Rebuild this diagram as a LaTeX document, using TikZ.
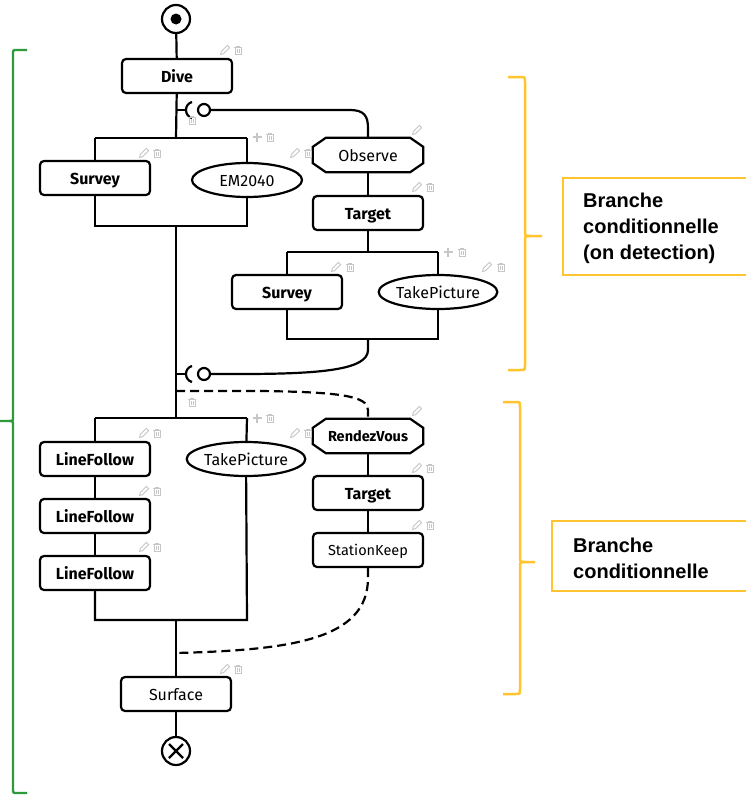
\documentclass[tikz,border=0pt]{standalone}
\usepackage{fontspec}
\setmainfont{Fira Sans}
\newfontfamily\notefont{Liberation Sans}
\usetikzlibrary{calc,shapes.geometric}

\definecolor{iconcol}{HTML}{C6C6C6}
\definecolor{braceyellow}{HTML}{FFC42E}
\definecolor{bracegreen}{HTML}{2F9A3C}

\tikzset{
  flow/.style={line width=2.2pt, draw=black},
  dashflow/.style={flow, dash pattern=on 9pt off 5pt},
  labelbox/.style={text height=12pt, text depth=0pt},
  action/.style={draw, line width=2.2pt, rounded corners=4pt, minimum width=110pt,
    minimum height=34pt, inner sep=0pt, labelbox, font=\fontsize{16}{18}\selectfont\bfseries},
  sensor/.style={draw, line width=2.2pt, ellipse, minimum width=110pt,
    minimum height=34pt, inner sep=0pt, labelbox, font=\fontsize{16}{18}\selectfont},
  event/.style={minimum width=110pt, minimum height=34pt, inner sep=0pt, labelbox,
    font=\fontsize{16}{18}\selectfont},
  socket/.style={circle, draw, line width=2.2pt, minimum size=12pt, inner sep=0pt},
  terminal/.style={circle, draw, line width=2.2pt, minimum size=28pt, inner sep=0pt},
  iconstroke/.style={draw=iconcol, line width=0.9pt},
  note/.style={font=\notefont\bfseries\fontsize{20}{26}\selectfont, align=left, inner sep=0pt},
  yellowline/.style={draw=braceyellow, line width=2.5pt},
  greenline/.style={draw=bracegreen, line width=2.3pt},
}

% chamfered frame drawn around an event node
\newcommand\eventframe[1]{%
  \draw[flow] ($(#1.north west)+(13,0)$) -- ($(#1.north east)+(-13,0)$)
    -- ($(#1.north east)+(0,9)$) -- ($(#1.south east)+(0,-9)$)
    -- ($(#1.south east)+(-13,0)$) -- ($(#1.south west)+(13,0)$)
    -- ($(#1.south west)+(0,-9)$) -- ($(#1.north west)+(0,9)$) -- cycle;}

% small edit / delete / add glyphs
\newcommand\icpencil[1]{\begin{scope}[shift={#1}]
  \draw[iconstroke] (-4.5,4.5) -- (-1.4,3.6) -- (4.6,-2.4) -- (2.4,-4.6) -- (-3.6,1.4) -- cycle;
  \end{scope}}
\newcommand\icbin[1]{\begin{scope}[shift={#1}]
  \draw[iconstroke] (-3,-2.5) rectangle (3,4.5);
  \draw[iconstroke] (-4,-2.5) -- (4,-2.5);
  \draw[iconstroke] (-1.5,-2.5) -- (-1.5,-4) -- (1.5,-4) -- (1.5,-2.5);
  \draw[iconstroke, line width=0.5pt] (-1,-0.8) -- (-1,3) (1,-0.8) -- (1,3);
  \end{scope}}
\newcommand\icplus[1]{\begin{scope}[shift={#1}]
  \draw[draw=iconcol, line width=1.6pt] (-4.5,0) -- (4.5,0) (0,-4.5) -- (0,4.5);
  \end{scope}}
\newcommand\icedit[2]{\icpencil{#1}\icbin{#2}}

\begin{document}
\begin{tikzpicture}[x=1pt, y=-1pt]
\fill[white] (0,0) rectangle (745,795);
\useasboundingbox (0,0) rectangle (745,795);

% ---------- nodes ----------
\node[terminal] (start) at (176,19) {};
\fill (start.center) circle (5.5);
\node[action] (dive) at (177,76) {Dive};

\node[action] (surv1) at (95,178) {Survey};
\node[sensor] (em) at (247,180) {EM2040};

\node[event] (obs) at (368,155) {Observe};
\eventframe{obs}
\node[action] (tgt1) at (368,213) {Target};
\node[action] (surv2) at (287,292) {Survey};
\node[sensor] (tp1) at (438,292) {TakePicture};

\node[socket] (sockA) at (204,110) {};
\node[socket] (sockB) at (204,374) {};

\node[action] (lf1) at (95,459) {LineFollow};
\node[action] (lf2) at (95,516) {LineFollow};
\node[action] (lf3) at (95,573) {LineFollow};
\node[sensor] (tp2) at (246,459) {TakePicture};

\node[event, font=\fontsize{14.5}{16}\selectfont\bfseries, text height=11pt] (rdv) at (368,436) {RendezVous};
\eventframe{rdv}
\node[action] (tgt2) at (368,493) {Target};
\node[action, font=\fontsize{14.5}{16}\selectfont, text height=11pt] (stk) at (368,550) {StationKeep};

\node[action, font=\fontsize{16}{18}\selectfont] (surf) at (176,694) {Surface};
\node[terminal] (stop) at (176,751) {};
\draw[flow] ($(stop.center)+(-7,-7)$) -- ($(stop.center)+(7,7)$)
            ($(stop.center)+(-7,7)$) -- ($(stop.center)+(7,-7)$);

% ---------- junction coordinates ----------
\coordinate (jA) at (176,110);
\coordinate (jB) at (176,374);
\coordinate (jD) at (176,391);
\coordinate (jE) at (176,653);
\coordinate (b1t) at (176,138);  \coordinate (b1tl) at (95,138);  \coordinate (b1tr) at (247,138);
\coordinate (b1b) at (176,226);  \coordinate (b1bl) at (95,226);  \coordinate (b1br) at (247,226);
\coordinate (ibt) at (368,252);  \coordinate (ibtl) at (287,252); \coordinate (ibtr) at (438,252);
\coordinate (ibb) at (368,339);  \coordinate (ibbl) at (287,339); \coordinate (ibbr) at (438,339);
\coordinate (b2t) at (176,418);  \coordinate (b2tl) at (95,418);  \coordinate (b2tr) at (247,418);
\coordinate (b2b) at (176,620);  \coordinate (b2bl) at (95,620);  \coordinate (b2br) at (247,620);

% ---------- main sequence ----------
\draw[flow] (start) -- (dive);
\draw[flow] (dive) -- (b1t);
\draw[flow] (b1tl) -- (b1tr);
\draw[flow] (b1tl) -- (surv1);
\draw[flow] (b1tr) -- (em);
\draw[flow] (surv1) -- (b1bl) -- (b1br) -- (em);
\draw[flow] (b1b) -- (b2t);
\draw[flow] (b2tl) -- (b2tr);
\draw[flow] (b2tl) -- (lf1);
\draw[flow] (lf1) -- (lf2);
\draw[flow] (lf2) -- (lf3);
\draw[flow] (lf3) -- (b2bl) -- (b2br) -- (tp2);
\draw[flow] (b2tr) -- (tp2);
\draw[flow] (b2b) -- (surf);
\draw[flow] (surf) -- (stop);

% ---------- conditional branch on detection ----------
\draw[flow] (jA) -- ++(10,0);
\draw[flow] (192,102) .. controls (184,104) and (184,116) .. (192,118);
\draw[flow] (sockA) -- (350,110) .. controls (364,110) and (368,116) .. (368,128) -- (obs.north);
\draw[flow] (obs) -- (tgt1);
\draw[flow] (tgt1) -- (ibt);
\draw[flow] (ibtl) -- (ibtr);
\draw[flow] (ibtl) -- (surv2);
\draw[flow] (ibtr) -- (tp1);
\draw[flow] (surv2) -- (ibbl) -- (ibbr) -- (tp1);
\draw[flow] (ibb) -- (368,350) .. controls (368,370) and (320,374) .. (240,374) -- (sockB);
\draw[flow] (jB) -- ++(10,0);
\draw[flow] (192,366) .. controls (184,368) and (184,380) .. (192,382);

% ---------- conditional branch (rendez-vous) ----------
\draw[dashflow] (jD) -- (260,391) .. controls (340,392) and (368,396) .. (368,410) -- (rdv.north);
\draw[flow] (rdv) -- (tgt2);
\draw[flow] (tgt2) -- (stk);
\draw[dashflow] (stk) -- (368,578) .. controls (368,640) and (290,650) .. (jE);

% ---------- edit glyphs ----------
\icedit{(225,50)}{(238,50)}
\icbin{(192,120)}
\icplus{(257,137)} \icbin{(270,137)}
\icedit{(144,153)}{(157,153)}
\icedit{(295,153)}{(308,153)}
\icpencil{(417,130)}
\icedit{(417,187)}{(430,187)}
\icplus{(448,252)} \icbin{(462,252)}
\icedit{(336,267)}{(350,267)}
\icedit{(487,267)}{(501,267)}
\icbin{(192,402)}
\icplus{(257,418)} \icbin{(270,418)}
\icedit{(144,433)}{(157,433)}
\icedit{(144,491)}{(157,491)}
\icedit{(144,547)}{(157,547)}
\icedit{(295,433)}{(308,433)}
\icpencil{(417,411)}
\icedit{(417,468)}{(430,468)}
\icedit{(417,525)}{(430,525)}
\icedit{(225,669)}{(238,669)}

% ---------- braces and notes ----------
\draw[greenline] (27,50) -- (17,50) .. controls (13,50) .. (13,54) -- (13,417)
  .. controls (13,421) .. (9,421) -- (0,421);
\draw[greenline] (9,421) .. controls (13,421) .. (13,425) -- (13,789)
  .. controls (13,793) .. (17,793) -- (27,793);

\draw[yellowline] (508,77) -- (520,77) .. controls (525,77) .. (525,82) -- (525,231)
  .. controls (525,236) .. (530,236) -- (542,236);
\draw[yellowline] (530,236) .. controls (525,236) .. (525,241) -- (525,365)
  .. controls (525,370) .. (520,370) -- (508,370);
\draw[yellowline] (748,178) -- (563,178) -- (563,275) -- (748,275);
\node[note, anchor=north west] (noteA) at (583,193) {Branche\\conditionnelle\\(on detection)};

\draw[yellowline] (503,402) -- (515,402) .. controls (520,402) .. (520,407) -- (520,557)
  .. controls (520,562) .. (525,562) -- (535,562);
\draw[yellowline] (525,562) .. controls (520,562) .. (520,567) -- (520,689)
  .. controls (520,694) .. (515,694) -- (503,694);
\draw[yellowline] (748,521) -- (552,521) -- (552,591) -- (748,591);
\node[note, anchor=north west] (noteB) at (573,538) {Branche\\conditionnelle};
\end{tikzpicture}
\end{document}
